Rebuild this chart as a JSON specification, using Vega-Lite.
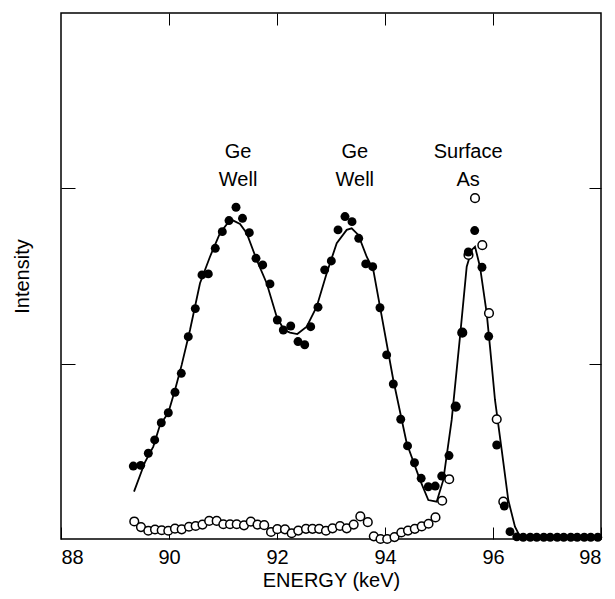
{
  "$schema": "https://vega.github.io/schema/vega-lite/v6.json",
  "width": 540,
  "height": 526,
  "autosize": {"type": "none"},
  "padding": {"left": 61, "top": 13, "right": 14, "bottom": 60},
  "background": "white",
  "config": {
    "view": {"stroke": "black", "strokeWidth": 1.5},
    "font": "Liberation Sans",
    "axis": {"domain": false, "grid": false, "tickColor": "black", "tickWidth": 1, "labelColor": "black", "titleColor": "black", "labelFont": "Liberation Sans", "titleFont": "Liberation Sans", "labelFontSize": 20, "titleFontSize": 20, "titleFontWeight": "normal"}
  },
  "resolve": {"axis": {"x": "independent", "y": "independent"}},
  "datasets": {
    "fit": [
      {"e": 89.352, "i": 0.270}, {"e": 89.556, "i": 0.439}, {"e": 89.709, "i": 0.527}, {"e": 89.833, "i": 0.650},
      {"e": 89.987, "i": 0.720}, {"e": 90.111, "i": 0.850}, {"e": 90.235, "i": 0.993}, {"e": 90.389, "i": 1.192},
      {"e": 90.574, "i": 1.459}, {"e": 90.759, "i": 1.610}, {"e": 90.944, "i": 1.744}, {"e": 91.074, "i": 1.797},
      {"e": 91.191, "i": 1.816}, {"e": 91.315, "i": 1.797}, {"e": 91.439, "i": 1.744}, {"e": 91.624, "i": 1.592},
      {"e": 91.809, "i": 1.459}, {"e": 91.994, "i": 1.268}, {"e": 92.130, "i": 1.192}, {"e": 92.241, "i": 1.177},
      {"e": 92.376, "i": 1.169}, {"e": 92.550, "i": 1.211}, {"e": 92.735, "i": 1.325}, {"e": 92.920, "i": 1.516},
      {"e": 93.106, "i": 1.687}, {"e": 93.291, "i": 1.763}, {"e": 93.383, "i": 1.772}, {"e": 93.506, "i": 1.734},
      {"e": 93.661, "i": 1.610}, {"e": 93.783, "i": 1.535}, {"e": 93.907, "i": 1.325}, {"e": 94.154, "i": 0.907},
      {"e": 94.402, "i": 0.546}, {"e": 94.648, "i": 0.337}, {"e": 94.802, "i": 0.222}, {"e": 94.957, "i": 0.213},
      {"e": 95.080, "i": 0.337}, {"e": 95.235, "i": 0.679}, {"e": 95.389, "i": 1.154}, {"e": 95.513, "i": 1.553},
      {"e": 95.606, "i": 1.649}, {"e": 95.667, "i": 1.667}, {"e": 95.759, "i": 1.553}, {"e": 95.883, "i": 1.288},
      {"e": 95.944, "i": 1.097}, {"e": 96.037, "i": 0.793}, {"e": 96.161, "i": 0.508}, {"e": 96.283, "i": 0.222},
      {"e": 96.407, "i": 0.070}, {"e": 96.500, "i": 0.013}, {"e": 97.000, "i": 0.008}, {"e": 98.000, "i": 0.008}
    ],
    "filled": [
      {"e": 89.339, "i": 0.416}, {"e": 89.476, "i": 0.420}, {"e": 89.617, "i": 0.489}, {"e": 89.735, "i": 0.565},
      {"e": 89.857, "i": 0.663}, {"e": 89.987, "i": 0.720}, {"e": 90.111, "i": 0.837}, {"e": 90.228, "i": 0.945},
      {"e": 90.357, "i": 1.154}, {"e": 90.487, "i": 1.314}, {"e": 90.611, "i": 1.506}, {"e": 90.728, "i": 1.512},
      {"e": 90.857, "i": 1.658}, {"e": 90.987, "i": 1.753}, {"e": 91.111, "i": 1.816}, {"e": 91.241, "i": 1.892},
      {"e": 91.361, "i": 1.829}, {"e": 91.487, "i": 1.747}, {"e": 91.611, "i": 1.601}, {"e": 91.735, "i": 1.563},
      {"e": 91.870, "i": 1.455}, {"e": 92.006, "i": 1.249}, {"e": 92.117, "i": 1.192}, {"e": 92.254, "i": 1.215},
      {"e": 92.389, "i": 1.126}, {"e": 92.513, "i": 1.108}, {"e": 92.624, "i": 1.211}, {"e": 92.759, "i": 1.322},
      {"e": 92.883, "i": 1.535}, {"e": 93.006, "i": 1.586}, {"e": 93.130, "i": 1.763}, {"e": 93.259, "i": 1.839},
      {"e": 93.389, "i": 1.810}, {"e": 93.513, "i": 1.715}, {"e": 93.643, "i": 1.569}, {"e": 93.772, "i": 1.553},
      {"e": 93.907, "i": 1.319}, {"e": 94.031, "i": 1.050}, {"e": 94.154, "i": 0.884}, {"e": 94.291, "i": 0.683},
      {"e": 94.417, "i": 0.531}, {"e": 94.546, "i": 0.435}, {"e": 94.670, "i": 0.346}, {"e": 94.802, "i": 0.298},
      {"e": 94.930, "i": 0.302}, {"e": 95.050, "i": 0.359}, {"e": 95.185, "i": 0.476}, {"e": 95.309, "i": 0.755},
      {"e": 95.431, "i": 1.177}, {"e": 95.543, "i": 1.637}, {"e": 95.661, "i": 1.759}, {"e": 95.796, "i": 1.550},
      {"e": 95.920, "i": 1.156}, {"e": 96.069, "i": 0.536}, {"e": 96.209, "i": 0.188}, {"e": 96.315, "i": 0.042},
      {"e": 96.44, "i": 0.012}, {"e": 96.56, "i": 0.010}, {"e": 96.69, "i": 0.010}, {"e": 96.81, "i": 0.010},
      {"e": 96.94, "i": 0.010}, {"e": 97.06, "i": 0.010}, {"e": 97.19, "i": 0.010}, {"e": 97.31, "i": 0.010},
      {"e": 97.44, "i": 0.010}, {"e": 97.56, "i": 0.010}, {"e": 97.69, "i": 0.010}, {"e": 97.81, "i": 0.010},
      {"e": 97.94, "i": 0.010}
    ],
    "open": [
      {"e": 89.357, "i": 0.100}, {"e": 89.481, "i": 0.068}, {"e": 89.617, "i": 0.047}, {"e": 89.741, "i": 0.054},
      {"e": 89.865, "i": 0.050}, {"e": 89.987, "i": 0.047}, {"e": 90.111, "i": 0.059}, {"e": 90.235, "i": 0.055},
      {"e": 90.370, "i": 0.070}, {"e": 90.494, "i": 0.074}, {"e": 90.620, "i": 0.082}, {"e": 90.744, "i": 0.103},
      {"e": 90.883, "i": 0.103}, {"e": 91.006, "i": 0.084}, {"e": 91.130, "i": 0.084}, {"e": 91.254, "i": 0.084},
      {"e": 91.389, "i": 0.078}, {"e": 91.515, "i": 0.099}, {"e": 91.639, "i": 0.082}, {"e": 91.763, "i": 0.079},
      {"e": 91.889, "i": 0.040}, {"e": 92.006, "i": 0.056}, {"e": 92.148, "i": 0.055}, {"e": 92.272, "i": 0.033},
      {"e": 92.394, "i": 0.048}, {"e": 92.537, "i": 0.058}, {"e": 92.657, "i": 0.058}, {"e": 92.781, "i": 0.058},
      {"e": 92.907, "i": 0.047}, {"e": 93.028, "i": 0.061}, {"e": 93.167, "i": 0.074}, {"e": 93.291, "i": 0.061},
      {"e": 93.420, "i": 0.082}, {"e": 93.543, "i": 0.129}, {"e": 93.681, "i": 0.096}, {"e": 93.793, "i": 0.015},
      {"e": 93.917, "i": 0.000}, {"e": 94.041, "i": 0.000}, {"e": 94.176, "i": 0.011}, {"e": 94.302, "i": 0.037},
      {"e": 94.426, "i": 0.048}, {"e": 94.552, "i": 0.058}, {"e": 94.680, "i": 0.072}, {"e": 94.806, "i": 0.087},
      {"e": 94.935, "i": 0.123}, {"e": 95.059, "i": 0.218}, {"e": 95.189, "i": 0.341}, {"e": 95.309, "i": 0.755},
      {"e": 95.431, "i": 1.177}, {"e": 95.546, "i": 1.620}, {"e": 95.667, "i": 1.944}, {"e": 95.802, "i": 1.676},
      {"e": 95.926, "i": 1.288}, {"e": 96.069, "i": 0.683}, {"e": 96.191, "i": 0.213}
    ],
    "notes": [
      {"e": 91.28, "i": 2.205, "label": "Ge\nWell"},
      {"e": 93.44, "i": 2.205, "label": "Ge\nWell"},
      {"e": 95.54, "i": 2.205, "label": "Surface\nAs"}
    ]
  },
  "layer": [
    {
      "data": {"name": "fit"},
      "mark": {"type": "line", "color": "black", "strokeWidth": 1.8, "clip": true},
      "encoding": {
        "x": {"field": "e", "type": "quantitative", "scale": {"domain": [88, 98], "nice": false, "zero": false},
              "axis": {"orient": "bottom", "values": [88, 90, 92, 94, 96, 98], "tickSize": -12, "labelPadding": 20, "title": "ENERGY (keV)", "titlePadding": 3}},
        "y": {"field": "i", "type": "quantitative", "scale": {"domain": [0, 3], "nice": false, "zero": false},
              "axis": {"orient": "left", "values": [1, 2], "tickSize": -14, "labels": false, "title": "Intensity", "titlePadding": 28}}
      }
    },
    {
      "data": {"name": "open"},
      "mark": {"type": "point", "shape": "circle", "filled": false, "fill": "white", "fillOpacity": 1, "stroke": "black", "strokeWidth": 1.5, "opacity": 1, "size": 75},
      "encoding": {
        "x": {"field": "e", "type": "quantitative",
              "axis": {"orient": "top", "values": [90, 92, 94, 96], "tickSize": -12, "labels": false, "title": null}},
        "y": {"field": "i", "type": "quantitative",
              "axis": {"orient": "right", "values": [1, 2], "tickSize": -12, "labels": false, "title": null}}
      }
    },
    {
      "data": {"name": "filled"},
      "mark": {"type": "point", "shape": "circle", "filled": true, "color": "black", "opacity": 1, "size": 80},
      "encoding": {
        "x": {"field": "e", "type": "quantitative", "axis": null},
        "y": {"field": "i", "type": "quantitative", "axis": null}
      }
    },
    {
      "data": {"name": "notes"},
      "mark": {"type": "text", "font": "Liberation Sans", "fontSize": 20, "lineBreak": "\n", "lineHeight": 28, "align": "center", "baseline": "middle", "color": "black"},
      "encoding": {
        "x": {"field": "e", "type": "quantitative", "axis": null},
        "y": {"field": "i", "type": "quantitative", "axis": null},
        "text": {"field": "label"}
      }
    }
  ]
}
